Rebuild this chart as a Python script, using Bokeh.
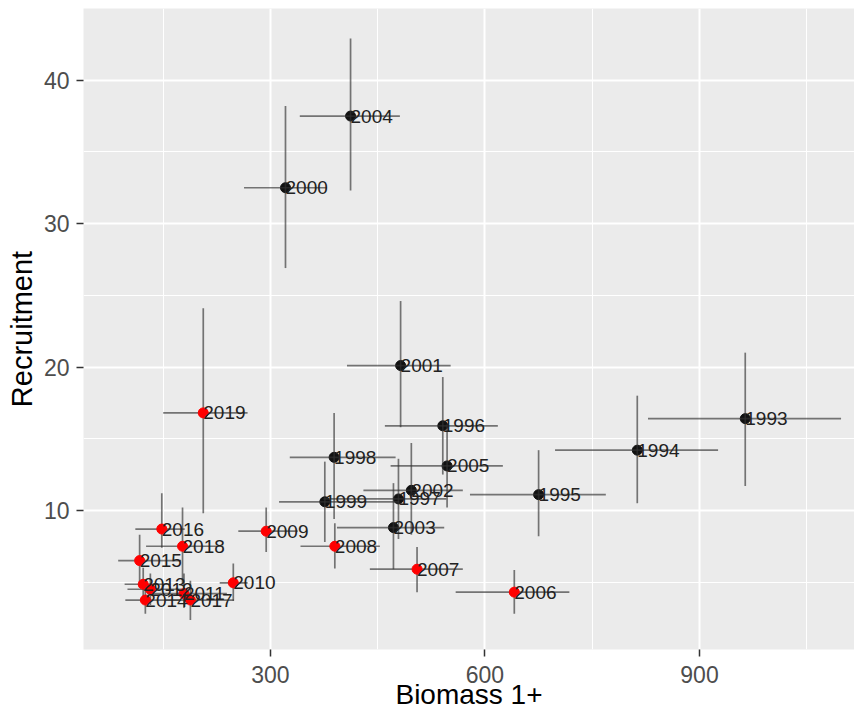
from bokeh.plotting import figure
from bokeh.models import ColumnDataSource, FixedTicker, Range1d
from bokeh.core.properties import value
from bokeh.embed import file_html
from bokeh.resources import INLINE

years = [1993, 1994, 1995, 1996, 1997, 1998, 1999, 2000, 2001, 2002, 2003, 2004, 2005,
         2006, 2007, 2008, 2009, 2010, 2011, 2012, 2013, 2014, 2015, 2016, 2017, 2018, 2019]
biomass = [964, 813, 675, 541, 479, 389, 376, 321, 482, 497, 472, 412, 547,
           641, 505, 390, 294, 248, 179, 132, 122, 125, 117, 148, 188, 177, 206]
recruit = [16.4, 14.2, 11.1, 15.9, 10.8, 13.7, 10.6, 32.5, 20.1, 11.4, 8.8, 37.5, 13.1,
           4.3, 5.9, 7.5, 8.55, 4.95, 4.2, 4.5, 4.85, 3.75, 6.5, 8.7, 3.75, 7.5, 16.8]
biomass_lo = [828, 698, 579, 460, 374, 327, 312, 263, 407, 430, 393, 341, 468,
              559, 439, 342, 255, 229, 128, 100, 96, 97, 87, 111, 153, 126, 150]
biomass_hi = [1098, 926, 769, 618, 546, 475, 480, 379, 552, 569, 543, 481, 625,
              718, 569, 453, 338, 268, 239, 176, 160, 174, 175, 180, 249, 234, 268]
recruit_lo = [11.7, 10.5, 8.2, 12.5, 8.0, 9.4, 7.8, 26.9, 15.8, 8.3, 5.9, 32.3, 10.2,
              2.8, 4.3, 5.95, 7.1, 3.7, 3.2, 3.4, 3.9, 2.8, 4.6, 7.4, 2.35, 4.9, 9.8]
recruit_hi = [21.0, 18.0, 14.2, 19.3, 13.6, 16.8, 13.4, 38.2, 24.6, 14.7, 11.9, 42.9, 16.0,
              5.85, 7.45, 9.1, 10.2, 6.3, 5.6, 5.6, 6.0, 4.8, 8.3, 11.2, 5.1, 10.2, 24.1]
recent_from = 2006
x_ticks = [300, 600, 900]
x_minor = [150, 450, 750, 1050]
y_ticks = [10, 20, 30, 40]
y_minor = [5, 15, 25, 35, 45]
x_title = "Biomass 1+"
y_title = "Recruitment"

labels = [str(y) for y in years]
src = ColumnDataSource(dict(year=years, x=biomass, y=recruit, xlo=biomass_lo, xhi=biomass_hi,
                            ylo=recruit_lo, yhi=recruit_hi, label=labels))
old_idx = [i for i, y in enumerate(years) if y < recent_from]
new_idx = [i for i, y in enumerate(years) if y >= recent_from]
old_src = ColumnDataSource(dict(x=[biomass[i] for i in old_idx], y=[recruit[i] for i in old_idx]))
new_src = ColumnDataSource(dict(x=[biomass[i] for i in new_idx], y=[recruit[i] for i in new_idx]))

p = figure(width=854, height=712, output_backend="svg", toolbar_location=None,
           x_range=Range1d(38.5, 1116.8), y_range=Range1d(0.3, 45.0),
           min_border_left=83, min_border_right=0, min_border_top=8, min_border_bottom=63,
           background_fill_color="#EBEBEB", border_fill_color="white", outline_line_color=None)

p.xaxis.ticker = FixedTicker(ticks=x_ticks, minor_ticks=x_minor)
p.yaxis.ticker = FixedTicker(ticks=y_ticks, minor_ticks=y_minor)

p.xgrid.grid_line_color = "white"
p.ygrid.grid_line_color = "white"
p.xgrid.grid_line_width = 2
p.ygrid.grid_line_width = 2
p.xgrid.minor_grid_line_color = "white"
p.ygrid.minor_grid_line_color = "white"
p.xgrid.minor_grid_line_width = 1
p.ygrid.minor_grid_line_width = 1

for ax in (p.xaxis, p.yaxis):
    ax.axis_line_color = None
    ax.major_tick_line_color = "#333333"
    ax.major_tick_line_width = 1.5
    ax.major_tick_out = 7
    ax.major_tick_in = 0
    ax.minor_tick_line_color = None
    ax.major_label_text_font = "Liberation Sans"
    ax.major_label_text_font_size = "23px"
    ax.major_label_text_color = "#4D4D4D"
    ax.axis_label_text_font = "Liberation Sans"
    ax.axis_label_text_font_style = "normal"
    ax.axis_label_text_color = "black"

p.xaxis.axis_label = x_title
p.yaxis.axis_label = y_title
p.xaxis.axis_label_text_font_size = "28px"
p.yaxis.axis_label_text_font_size = "29px"
p.xaxis.major_label_standoff = 9
p.yaxis.major_label_standoff = 7
p.xaxis.axis_label_standoff = -7
p.yaxis.axis_label_standoff = 3

# black points underneath the error bars
p.scatter("x", "y", source=old_src, size=10, fill_color="#111111", line_color="#111111")

# error bars
p.segment(x0="xlo", x1="xhi", y0="y", y1="y", source=src, line_color="#333333",
          line_alpha=0.65, line_width=1.7)
p.segment(x0="x", x1="x", y0="ylo", y1="yhi", source=src, line_color="#333333",
          line_alpha=0.65, line_width=1.7)

# red points on top
p.scatter("x", "y", source=new_src, size=10, fill_color="#FF0000", line_color="#FF0000")

p.text(x="x", y="y", text="label", source=src, text_font=value("Liberation Sans"),
       text_font_size="19px", text_color="#222222", text_align="left",
       text_baseline="alphabetic")

open("out.html", "w").write(file_html(p, INLINE))
